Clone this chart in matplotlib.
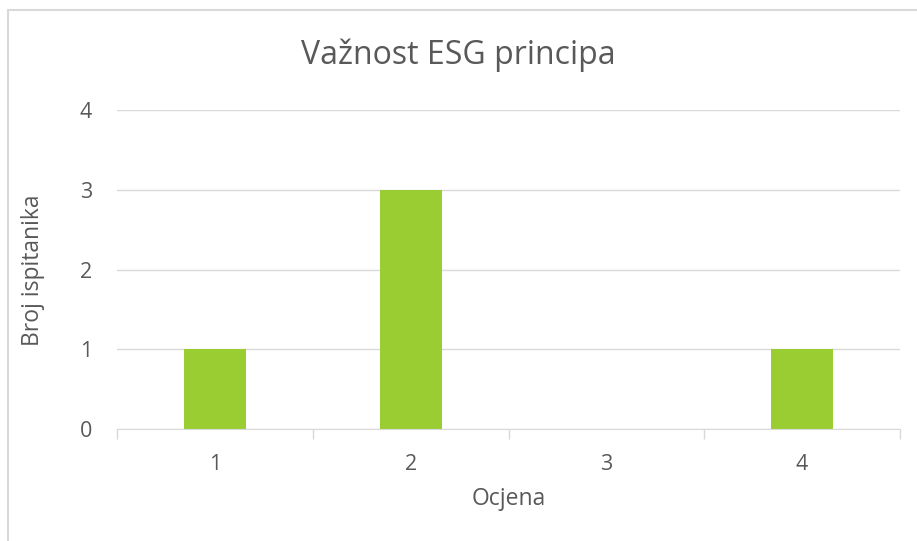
import matplotlib.pyplot as plt
from matplotlib.patches import Rectangle

# podaci
ocjene = [1, 2, 3, 4]
broj_ispitanika = [1, 3, 0, 1]
oznake = ["1", "2", "3", "4"]

BOJA_STUPCA = "#9ACD32"
BOJA_TEKSTA = "#595959"
BOJA_MREZE = "#D9D9D9"

plt.rcParams['font.family'] = ['Open Sans', 'DejaVu Sans']

fig = plt.figure(figsize=(9.17, 5.41), dpi=100)
ax = fig.add_axes([117/917, 1-429/541, (900-117)/917, (429-110)/541])

# okvir grafikona (donji i desni rub izvan slike)
fig.patches.append(Rectangle((8/917, -0.1), 1, 1.1-10/541, transform=fig.transFigure,
                             fill=False, edgecolor=BOJA_MREZE, linewidth=1.5))

ax.bar(ocjene, broj_ispitanika, width=0.316, color=BOJA_STUPCA, zorder=3)

ax.set_xlim(0.5, 4.5)
ax.set_ylim(0, 4)
ax.set_yticks([0, 1, 2, 3, 4])
ax.set_xticks(ocjene)
ax.set_xticklabels(oznake)
ax.set_xticks([0.5, 1.5, 2.5, 3.5, 4.5], minor=True)
ax.tick_params(axis='x', which='major', length=0, pad=18, labelsize=15.5, labelcolor=BOJA_TEKSTA)
ax.tick_params(axis='x', which='minor', length=7, width=1, color=BOJA_MREZE)
ax.tick_params(axis='y', length=0, pad=18, labelsize=15.5, labelcolor=BOJA_TEKSTA)

ax.grid(axis='y', color=BOJA_MREZE, linewidth=1, zorder=0)
for s in ['top', 'right', 'left']:
    ax.spines[s].set_visible(False)
ax.spines['bottom'].set_color(BOJA_MREZE)
ax.spines['bottom'].set_zorder(4)

fig.text(0.5, 1-55/541, "Važnost ESG principa", ha='center', va='center',
         fontsize=23, color=BOJA_TEKSTA)
fig.text(33/917, 1-270/541, "Broj ispitanika", ha='center', va='center', rotation=90,
         fontsize=16.5, color=BOJA_TEKSTA)
fig.text(509/917, 1-499/541, "Ocjena", ha='center', va='center',
         fontsize=16.5, color=BOJA_TEKSTA)

fig.savefig("out.png", dpi=100)
